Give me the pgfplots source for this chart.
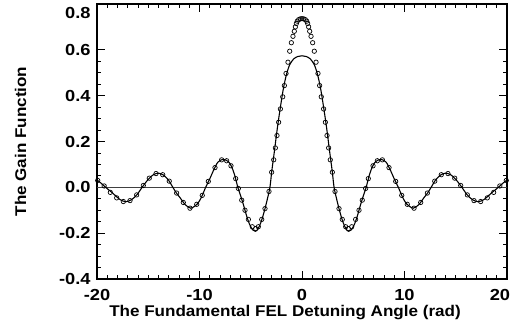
\documentclass[border=0pt]{standalone}
\usepackage{pgfplots}
\pgfplotsset{compat=1.18}
\usepackage{fontspec}
\setmainfont{Liberation Sans}
\newfontfamily\tickfont{Liberation Sans}[FakeStretch=1.14]
\newfontfamily\labfont{Liberation Sans}[FakeStretch=1.1]
\begin{document}
\begin{tikzpicture}
\path[use as bounding box] (-97bp,-53bp) rectangle (429bp,279bp);
\begin{axis}[
  at={(0,0)}, anchor=south west,
  scale only axis, width=410bp, height=275bp,
  xmin=-20, xmax=20, ymin=-0.4, ymax=0.8,
  xtick={-20,-10,0,10,20},
  xticklabels={-20,-10,0,10,\hspace*{-14bp}20},
  ytick={-0.4,-0.2,0,0.2,0.4,0.6},
  yticklabels={-0.4,-0.2,0.0,0.2,0.4,0.6},
  extra y ticks={0.8},
  extra y tick labels={0.8},
  extra y tick style={yticklabel style={yshift=-9.4bp}},
  minor x tick num=9, minor y tick num=3,
  tick align=inside,
  major tick length=8bp, minor tick length=4bp,
  axis line style={line width=1.3bp},
  every tick/.style={black, line width=0.9bp},
  xticklabel style={font=\tickfont\fontsize{16bp}{18bp}\selectfont\bfseries, anchor=base, yshift=-21.5bp, inner sep=0pt},
  yticklabel style={font=\tickfont\fontsize{16bp}{18bp}\selectfont\bfseries, anchor=east, inner sep=0pt, xshift=-6.3bp},
  xlabel={The Fundamental FEL Detuning Angle (rad)},
  xlabel style={font=\labfont\fontsize{15.5bp}{18bp}\selectfont\bfseries, at={(axis description cs:0.4585,-0.138)}, anchor=base, inner sep=0pt},
  ylabel={The Gain Function},
  ylabel style={font=\labfont\fontsize{15.5bp}{18bp}\selectfont\bfseries, at={(axis description cs:-0.1866,0.5)}, anchor=center, inner sep=0pt},
]
\addplot[black!75, line width=0.8bp] coordinates {(-20,0) (20,0)};
\addplot[black, line width=1.1bp, smooth] coordinates {
(-20,0.032)(-19.6,0.018)(-19.15,0)(-18.4,-0.028)(-17.8,-0.052)(-17.2,-0.063)(-16.6,-0.053)(-16.1,-0.032)(-15.6,0)(-15.0,0.035)(-14.5,0.055)(-14.0,0.062)(-13.5,0.053)(-13.0,0.03)(-12.6,0)(-12.25,-0.025)(-11.9,-0.045)(-11.4,-0.075)(-10.85,-0.091)(-10.2,-0.072)(-9.8,-0.042)(-9.4,0)(-9.0,0.037)(-8.6,0.077)(-8.2,0.11)(-7.7,0.122)(-7.2,0.113)(-6.9,0.093)(-6.6,0.058)(-6.26,0)(-6.0,-0.035)(-5.7,-0.078)(-5.4,-0.125)(-5.1,-0.163)(-4.8,-0.186)(-4.55,-0.192)(-4.3,-0.182)(-4.0,-0.152)(-3.7,-0.108)(-3.4,-0.055)(-3.13,0)(-2.95,0.07)(-2.7,0.155)(-2.4,0.26)(-2.1,0.352)(-1.8,0.435)(-1.5,0.495)(-1.2,0.535)(-0.8,0.561)(-0.4,0.571)(0,0.574)
(0.4,0.571)(0.8,0.561)(1.2,0.535)(1.5,0.495)(1.8,0.435)(2.1,0.352)(2.4,0.26)(2.7,0.155)(2.95,0.07)(3.13,0)(3.4,-0.055)(3.7,-0.108)(4.0,-0.152)(4.3,-0.182)(4.55,-0.192)(4.8,-0.186)(5.1,-0.163)(5.4,-0.125)(5.7,-0.078)(6.0,-0.035)(6.26,0)(6.6,0.058)(6.9,0.093)(7.2,0.113)(7.7,0.122)(8.2,0.11)(8.6,0.077)(9.0,0.037)(9.4,0)(9.8,-0.042)(10.2,-0.072)(10.85,-0.091)(11.4,-0.075)(11.9,-0.045)(12.25,-0.025)(12.6,0)(13.0,0.03)(13.5,0.053)(14.0,0.062)(14.5,0.055)(15.0,0.035)(15.6,0)(16.1,-0.032)(16.6,-0.053)(17.2,-0.063)(17.8,-0.052)(18.4,-0.028)(19.15,0)(19.6,0.018)(20,0.032)
};
\addplot[black, only marks, mark=o, mark size=2.2bp, mark options={line width=0.7bp}] coordinates {
(-19.93,0.03)(-19.3,0.006)(-18.7,-0.022)(-18.08,-0.046)(-17.43,-0.062)(-16.78,-0.058)(-16.13,-0.033)(-15.48,0.008)(-14.9,0.04)(-14.24,0.06)(-13.59,0.055)(-12.95,0.027)(-12.23,-0.025)(-11.58,-0.066)(-10.93,-0.091)(-10.27,-0.074)(-9.73,-0.035)(-9.14,0.026)(-8.49,0.086)(-7.84,0.12)(-7.35,0.116)(-6.93,0.094)(-6.47,0.038)(-6.21,-0.005)(-5.88,-0.056)(-5.56,-0.1)(-5.23,-0.14)(-4.85,-0.172)(-4.52,-0.18)(-4.26,-0.172)(-3.93,-0.14)(-3.61,-0.093)(-3.22,-0.018)(-2.96,0.066)(-2.76,0.12)(-2.6,0.172)(-2.44,0.226)(-2.28,0.284)(-2.11,0.342)(-1.88,0.395)(-1.72,0.444)(-1.56,0.497)(-1.37,0.546)(-1.2,0.594)(-1.04,0.631)(-0.88,0.659)(-0.75,0.681)(-0.65,0.7)(-0.55,0.715)(-0.46,0.725)(-0.32,0.732)(-0.17,0.735)(0,0.736)
(0.17,0.735)(0.32,0.732)(0.46,0.725)(0.55,0.715)(0.65,0.7)(0.75,0.681)(0.88,0.659)(1.04,0.631)(1.2,0.594)(1.37,0.546)(1.56,0.497)(1.72,0.444)(1.88,0.395)(2.11,0.342)(2.28,0.284)(2.44,0.226)(2.6,0.172)(2.76,0.12)(2.96,0.066)(3.22,-0.018)(3.61,-0.093)(3.93,-0.14)(4.26,-0.172)(4.52,-0.18)(4.85,-0.172)(5.23,-0.14)(5.56,-0.1)(5.88,-0.056)(6.21,-0.005)(6.47,0.038)(6.93,0.094)(7.35,0.116)(7.84,0.12)(8.49,0.086)(9.14,0.026)(9.73,-0.035)(10.27,-0.074)(10.93,-0.091)(11.58,-0.066)(12.23,-0.025)(12.95,0.027)(13.59,0.055)(14.24,0.06)(14.9,0.04)(15.48,0.008)(16.13,-0.033)(16.78,-0.058)(17.43,-0.062)(18.08,-0.046)(18.7,-0.022)(19.3,0.006)(19.93,0.03)
};
\end{axis}
\end{tikzpicture}
\end{document}
